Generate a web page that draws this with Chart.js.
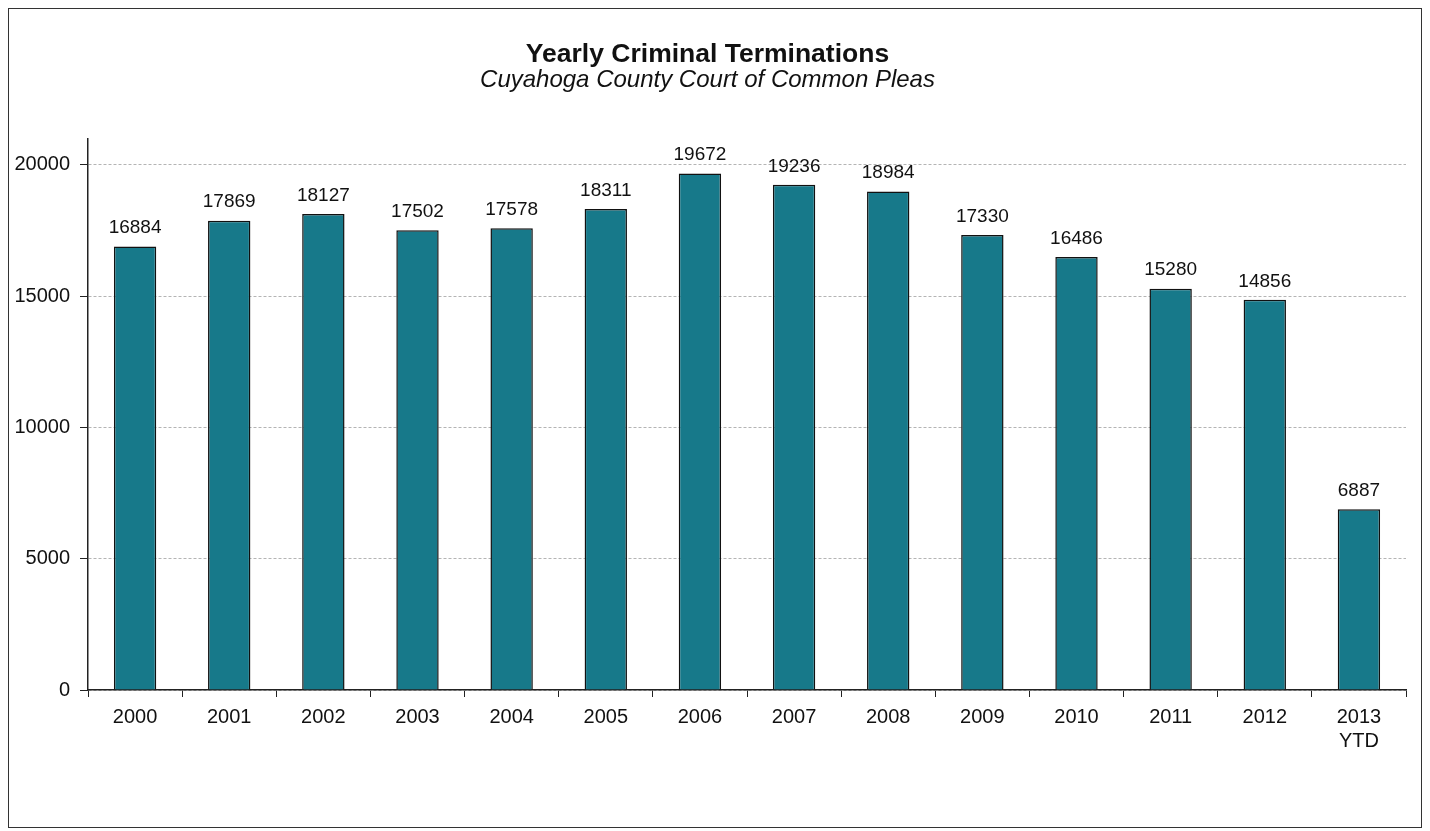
<!DOCTYPE html>
<html>
<head>
<meta charset="utf-8">
<script src="https://cdn.jsdelivr.net/npm/chart.js@4/dist/chart.umd.min.js"></script>
<style>
  html, body { margin: 0; padding: 0; background: #fff; }
  #frame {
    position: absolute; left: 8px; top: 8px;
    width: 1412px; height: 818px;
    border: 1px solid #333;
  }
  canvas { display: block; }
</style>
</head>
<body>
<div id="frame"><canvas id="chart" width="1412" height="818"></canvas></div>
<script>
const years = ['2000', '2001', '2002', '2003', '2004', '2005', '2006', '2007', '2008', '2009', '2010', '2011', '2012', ['2013', 'YTD']];
const terminations = [16884, 17869, 18127, 17502, 17578, 18311, 19672, 19236, 18984, 17330, 16486, 15280, 14856, 6887];
const yTicks = [0, 5000, 10000, 15000, 20000];

const font = "'Liberation Sans', Arial, sans-serif";

// value above each bar
const barLabels = {
  id: 'barLabels',
  afterDatasetsDraw(chart) {
    const ctx = chart.ctx;
    const meta = chart.getDatasetMeta(0);
    ctx.save();
    ctx.font = '19px ' + font;
    ctx.fillStyle = '#111';
    ctx.textAlign = 'center';
    ctx.textBaseline = 'bottom';
    meta.data.forEach((bar, i) => {
      ctx.fillText(terminations[i], bar.x, bar.y - 9);
    });
    ctx.restore();
  }
};

new Chart(document.getElementById('chart'), {
  type: 'bar',
  data: {
    labels: years,
    datasets: [{
      data: terminations,
      backgroundColor: '#17798a',
      borderColor: '#111',
      borderWidth: 1.5,
      barPercentage: 0.45,
      categoryPercentage: 1
    }]
  },
  options: {
    responsive: false,
    animation: false,
    layout: { padding: { left: 0, right: 15, top: 10, bottom: 66 } },
    plugins: {
      legend: { display: false },
      tooltip: { enabled: false },
      title: {
        display: true,
        text: 'Yearly Criminal Terminations',
        color: '#111',
        font: { family: font, size: 26.5, weight: 'bold', lineHeight: 1 },
        padding: { top: 22, bottom: 1 }
      },
      subtitle: {
        display: true,
        text: 'Cuyahoga County Court of Common Pleas',
        color: '#111',
        font: { family: font, size: 24, style: 'italic', lineHeight: 1 },
        padding: { bottom: 46 }
      }
    },
    scales: {
      x: {
        grid: {
          offset: true,
          drawOnChartArea: false,
          color: '#222',
          tickLength: 7
        },
        border: { color: '#222', width: 1.5 },
        ticks: {
          color: '#111',
          font: { family: font, size: 20 },
          maxRotation: 0,
          padding: 8
        }
      },
      y: {
        min: 0,
        max: 21000,
        afterBuildTicks(axis) {
          axis.ticks = yTicks.map(v => ({ value: v }));
        },
        afterFit(axis) {
          axis.width = 79;
        },
        grid: {
          color: '#b4b4b4',
          tickColor: '#222',
          tickLength: 8
        },
        border: { color: '#222', width: 1.5, dash: [3, 2] },
        ticks: {
          color: '#111',
          font: { family: font, size: 20 },
          padding: 10,
          callback: v => String(v)
        }
      }
    }
  },
  plugins: [barLabels]
});
</script>
</body>
</html>
